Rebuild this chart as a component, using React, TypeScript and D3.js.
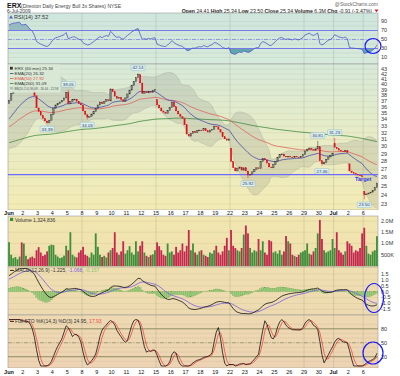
import React from "react";
import * as d3 from "d3";

// ---------- data ----------
const dayLabels = ["Jun","2","3","4","5","8","9","10","11","12","15","16","17","18","19","22","23","24","25","26","29","30","Jul","2","6"];
const monthLabelIdx = [0, 22];
const weekLineDays = [5, 10, 15, 20, 22, 24];
const barsPerDay = 7;

// hourly closes before Jun 1 (warm-up, estimated from band/EMA at left edge)
const priorCloses = [30.6, 30.2, 30.9, 31.5, 31.1, 31.8, 32.4, 32.0, 32.7, 33.3, 33.0, 33.6, 34.2, 34.0, 34.6, 35.1, 35.6, 35.3, 36.0, 36.6];

// 60-min closes, 7 per trading day
const closes = [
  37.2, 38.4, 39.2, 39.6, 40.0, 40.3, 39.8,
  40.1, 40.4, 39.9, 39.4, 39.0, 38.0, 35.9,
  35.3, 34.7, 34.2, 33.8, 33.5, 33.9, 34.8,
  35.8, 36.4, 36.6, 36.9, 37.2, 37.6, 38.6,
  36.6, 37.0, 37.3, 37.4, 37.0, 36.6, 36.4,
  35.4, 34.8, 34.4, 34.5, 34.9, 35.3, 35.8,
  36.4, 36.9, 36.6, 37.0, 37.3, 37.1, 39.2,
  38.7, 37.9, 37.5, 37.7, 37.3, 37.0, 37.6,
  38.3, 39.0, 39.8, 40.6, 41.3, 41.9, 40.3,
  38.4, 38.7, 38.5, 38.8, 38.6, 38.9, 39.1,
  36.4, 35.9, 35.4, 35.2, 35.0, 35.5, 36.0,
  36.9, 36.1, 35.4, 34.9, 34.5, 34.2, 33.2,
  31.8, 31.5, 31.9, 32.2, 32.0, 32.3, 32.4,
  32.3, 32.6, 32.3, 32.1, 32.4, 32.5, 33.0,
  32.9, 32.5, 32.1, 31.4, 31.1, 30.9, 31.1,
  28.0, 27.2, 26.8, 27.1, 27.3, 26.9, 27.2,
  26.8, 26.3, 26.4, 26.7, 27.0, 27.2, 27.1,
  28.0, 28.4, 28.2, 27.8, 27.3, 27.2, 27.6,
  28.0, 28.5, 28.9, 29.0, 28.7, 28.6, 28.7,
  28.6, 28.5, 28.7, 28.6, 28.5, 28.7, 28.9,
  29.4, 29.6, 29.8, 29.6, 29.5, 29.7, 30.0,
  28.1, 27.7, 27.9, 28.3, 28.6, 28.8, 29.1,
  29.9, 29.7, 29.5, 29.4, 29.3, 29.5, 29.2,
  26.8, 26.6, 26.5, 26.4, 26.3, 26.2, 26.1,
  24.0, 24.1, 24.2, 24.3, 24.5, 24.8, 25.34,
];
const gapOpenBars = [70, 105, 154, 161, 168];
const gapOpenPrices = [37.3, 29.8, 30.5, 27.7, 24.41];

const markBars = [18, 28, 37, 61, 113, 146, 148, 154, 168];
const markPrices = [33.39, 39.05, 34.03, 42.14, 25.92, 30.81, 27.46, 31.23, 23.5];
const markKinds = ["low", "high", "low", "high", "low", "high", "low", "high", "low"];

// volume in thousands
const volumesK = [
  1060, 500, 350, 400, 300, 420, 1050,
  1000, 450, 300, 380, 420, 350, 700,
  840, 600, 450, 500, 650, 900, 950,
  930, 500, 420, 350, 380, 460, 900,
  700, 1500, 500, 420, 380, 600, 700,
  850, 500, 450, 380, 600, 500, 1450,
  850, 500, 400, 450, 380, 600, 700,
  800, 1500, 600, 500, 650, 1100, 550,
  700, 880, 600, 500, 1100, 650, 900,
  1100, 600, 450, 400, 480, 520, 700,
  1050, 880, 700, 500, 450, 1000, 600,
  650, 500, 850, 600, 700, 1000, 650,
  900, 1600, 700, 1000, 600, 500, 650,
  700, 500, 450, 400, 600, 550, 700,
  900, 600, 500, 650, 900, 1250, 700,
  1600, 900, 800, 700, 650, 800, 1400,
  1800, 1450, 800, 600, 700, 650, 1200,
  700, 1100, 600, 500, 1150, 1100, 600,
  650, 550, 700, 500, 650, 1330, 1100,
  1000, 500, 450, 400, 500, 600, 650,
  700, 1000, 550, 500, 650, 800, 1450,
  2050, 1200, 700, 600, 650, 700, 1200,
  800, 1500, 700, 600, 500, 650, 1100,
  1000, 900, 600, 700, 650, 800, 1450,
  1700, 900, 550, 500, 650, 700, 1325,
];

const ema20Seed = 33.8;
const ema50Seed = 32.7;
const ema200Seed = 30.5;
const ema12Seed = 35.3;
const ema26Seed = 34.0;
const signalSeed = 1.0;
const targetPrice = 26.35;

const priceTicks = [43, 42, 41, 40, 39, 38, 37, 36, 35, 34, 33, 32, 31, 30, 29, 28, 27, 26, 25, 24, 23];
const rsiTicks = [90, 70, 50, 30, 10];
const volTickValues = [2000, 1500, 1000, 500];
const volTickLabels = ["2.0M", "1.5M", "1.0M", "500K"];
const macdTicks = [1.5, 1.0, 0.5, 0.0, -0.5, -1.0, -1.5];
const stoTicks = [80, 50, 20];

// ---------- helpers ----------
function emaSeeded(values: number[], period: number, seed: number) {
  const k = 2 / (period + 1);
  let prev = seed;
  return values.map((v) => (prev = prev + k * (v - prev)));
}
const FONT = "Liberation Sans, Arial, sans-serif";

export default function App() {
  const X0 = 8, X1 = 378;
  const N = closes.length;
  const P = priorCloses.length;
  const x = d3.scaleLinear().domain([0, N]).range([X0, X1]);
  const cx = (i: number) => x(i + 0.5);
  const bw = (X1 - X0) / N;

  const rsiT = 13, rsiB = 64;
  const prT = 64, prB = 210;
  const volT = 216, volB = 267;
  const mT = 267, mB = 315;
  const sT = 315, sB = 368;

  const yRsi = d3.scaleLinear().domain([0, 100]).range([62, 17]);
  const yP = d3.scaleLog().domain([23, 43]).range([204, 69]);
  const yV = d3.scaleLinear().domain([0, 2000]).range([266, 221]);
  const yM = d3.scaleLinear().domain([0, 1]).range([291.7, 279.9]);
  const yS = d3.scaleLinear().domain([0, 100]).range([366, 319.5]);

  const opens = closes.map((c, i) => {
    const g = gapOpenBars.indexOf(i);
    if (g >= 0) return gapOpenPrices[g];
    return i === 0 ? priorCloses[P - 1] : closes[i - 1];
  });
  const highs = closes.map((c, i) => Math.max(c, opens[i]));
  const lows = closes.map((c, i) => Math.min(c, opens[i]));
  markBars.forEach((b, k) => {
    if (markKinds[k] === "high") highs[b] = Math.max(highs[b], markPrices[k]);
    else lows[b] = Math.min(lows[b], markPrices[k]);
  });

  const ema20 = emaSeeded(closes, 20, ema20Seed);
  const ema50 = emaSeeded(closes, 50, ema50Seed);
  const ema200 = emaSeeded(closes, 200, ema200Seed);
  const allC = priorCloses.concat(closes);
  const bb = closes.map((_, i) => {
    const w = allC.slice(P + i - 19, P + i + 1);
    const m = d3.mean(w) as number;
    const sd = Math.sqrt(d3.mean(w.map((v) => (v - m) * (v - m))) as number);
    return { m, up: m + 2 * sd, lo: m - 2 * sd };
  });

  let ag = 0, al = 0;
  for (let j = 1; j <= 14; j++) {
    const d = allC[j] - allC[j - 1];
    ag += Math.max(d, 0); al += Math.max(-d, 0);
  }
  ag /= 14; al /= 14;
  const rsiAll: number[] = [];
  for (let j = 15; j < allC.length; j++) {
    const d = allC[j] - allC[j - 1];
    ag = (ag * 13 + Math.max(d, 0)) / 14;
    al = (al * 13 + Math.max(-d, 0)) / 14;
    rsiAll[j] = al === 0 ? 100 : 100 - 100 / (1 + ag / al);
  }
  const rsi = closes.map((_, i) => rsiAll[P + i]);

  const e12 = emaSeeded(closes, 12, ema12Seed);
  const e26 = emaSeeded(closes, 26, ema26Seed);
  const macd = closes.map((_, i) => e12[i] - e26[i]);
  const sig = emaSeeded(macd, 9, signalSeed);
  const hist = macd.map((v, i) => v - sig[i]);

  const allH = priorCloses.concat(highs);
  const allL = priorCloses.concat(lows);
  const rawK: number[] = [];
  for (let j = 13; j < allC.length; j++) {
    const hh = d3.max(allH.slice(j - 13, j + 1)) as number;
    const ll = d3.min(allL.slice(j - 13, j + 1)) as number;
    rawK[j] = hh === ll ? 50 : ((allC[j] - ll) / (hh - ll)) * 100;
  }
  const fullK: number[] = [];
  for (let j = 15; j < allC.length; j++) fullK[j] = (rawK[j] + rawK[j - 1] + rawK[j - 2]) / 3;
  const fullD: number[] = [];
  for (let j = 17; j < allC.length; j++) fullD[j] = (fullK[j] + fullK[j - 1] + fullK[j - 2]) / 3;
  const stoK = closes.map((_, i) => fullK[P + i]);
  const stoD = closes.map((_, i) => fullD[P + i]);

  const lineOf = (arr: number[], y: (v: number) => number) =>
    d3.line<number>().x((_, i) => cx(i)).y((v) => y(v))(arr) as string;

  const bbArea = d3.area<any>().x((_, i) => cx(i)).y0((d) => yP(d.lo)).y1((d) => yP(d.up))(bb) as string;
  const bbUp = lineOf(bb.map((d) => d.up), yP);
  const bbLo = lineOf(bb.map((d) => d.lo), yP);

  const rsiLow = d3.area<number>().x((_, i) => cx(i)).y0(yRsi(30)).y1((v) => yRsi(Math.min(v, 30)))(rsi) as string;
  const rsiHigh = d3.area<number>().x((_, i) => cx(i)).y0(yRsi(70)).y1((v) => yRsi(Math.max(v, 70)))(rsi) as string;

  const last = N - 1;
  const bbLegend = `BB(20,2.0) ${bb[last].up.toFixed(2)} - ${bb[last].m.toFixed(2)} - ${bb[last].lo.toFixed(2)}`;

  const gridColor = "rgba(140,140,100,0.22)";
  const vGridColor = "rgba(120,130,110,0.35)";
  const weekXs = weekLineDays.map((d) => x(d * barsPerDay));

  const panelRect = (t: number, b: number, fill: string) => (
    <rect x={X0} y={t} width={X1 - X0} height={b - t} fill={fill} stroke="#9a9a9a" strokeWidth={0.6} />
  );
  const vGrid = (t: number, b: number) =>
    weekXs.map((wx, k) => <line key={k} x1={wx} x2={wx} y1={t} y2={b} stroke={vGridColor} strokeWidth={0.6} />);
  const hGrid = (ys: number[]) =>
    ys.map((yy, k) => <line key={k} x1={X0} x2={X1} y1={yy} y2={yy} stroke={gridColor} strokeWidth={0.5} />);

  const axisText = (yy: number, label: string, k: any) => (
    <text key={k} x={381} y={yy + 1.8} fontSize={5.5} fill="#333" fontFamily={FONT}>{label}</text>
  );

  const dateAxis = (yBase: number, t: number) => (
    <g>
      <rect x={0} y={t} width={400} height={6} fill="#fff" />
      {dayLabels.map((l, d) => (
        <text key={d} x={x(d * barsPerDay) + (d === 0 ? 1 : 0)} y={yBase} fontSize={5.5} textAnchor="middle"
          fontWeight={monthLabelIdx.includes(d) ? "bold" : "normal"} fill="#111" fontFamily={FONT}>{l}</text>
      ))}
    </g>
  );

  return (
    <svg width={400} height={376} style={{ position: "absolute", left: 0, top: 0, background: "#fff" }} fontFamily={FONT}>
      <defs>
        <linearGradient id="gRsi" x1="0" y1="0" x2="0" y2="1">
          <stop offset="0" stopColor="#cfe6dd" />
          <stop offset="1" stopColor="#d7eadb" />
        </linearGradient>
        <linearGradient id="gPr" x1="0" y1="0" x2="0" y2="1">
          <stop offset="0" stopColor="#d7e9d8" />
          <stop offset="0.5" stopColor="#e8ecc6" />
          <stop offset="1" stopColor="#f3ebb4" />
        </linearGradient>
        <linearGradient id="gVol" x1="0" y1="0" x2="0" y2="1">
          <stop offset="0" stopColor="#f1e6b0" />
          <stop offset="1" stopColor="#efe0ad" />
        </linearGradient>
        <linearGradient id="gM" x1="0" y1="0" x2="0" y2="1">
          <stop offset="0" stopColor="#efdfb0" />
          <stop offset="1" stopColor="#eedab1" />
        </linearGradient>
        <linearGradient id="gS" x1="0" y1="0" x2="0" y2="1">
          <stop offset="0" stopColor="#eed9b2" />
          <stop offset="1" stopColor="#edd3b3" />
        </linearGradient>
        <clipPath id="cRsi"><rect x={X0} y={rsiT} width={X1 - X0} height={rsiB - rsiT} /></clipPath>
        <clipPath id="cPr"><rect x={X0} y={prT} width={X1 - X0} height={prB - prT} /></clipPath>
        <clipPath id="cM"><rect x={X0} y={mT} width={X1 - X0} height={mB - mT} /></clipPath>
        <clipPath id="cS"><rect x={X0} y={sT} width={X1 - X0} height={sB - sT} /></clipPath>
      </defs>

      {/* header */}
      <text x={7} y={7.5} fontSize={7} fontWeight="bold" fill="#111">ERX</text>
      <text x={21} y={7.5} fontSize={5} fill="#444">(Direxion Daily Energy Bull 3x Shares) NYSE</text>
      <text x={7} y={12.6} fontSize={5} fill="#333">6-Jul-2009</text>
      <text x={378} y={5.5} fontSize={5} fill="#666" textAnchor="end">@StockCharts.com</text>
      <text x={372} y={12.6} fontSize={5.2} fill="#222" textAnchor="end">
        <tspan fontWeight="bold">Open</tspan> 24.41 <tspan fontWeight="bold">High</tspan> 25.34{" "}
        <tspan fontWeight="bold">Low</tspan> 23.50 <tspan fontWeight="bold">Close</tspan> 25.34{" "}
        <tspan fontWeight="bold">Volume</tspan> 6.3M <tspan fontWeight="bold">Chg</tspan> -0.91 (-3.47%)
      </text>
      <path d="M374.5,9.5 L378.5,9.5 L376.5,12.3 Z" fill="#d02020" />

      {/* RSI panel */}
      {panelRect(rsiT, rsiB, "url(#gRsi)")}
      {hGrid(d3.range(10, 100, 10).map((v) => yRsi(v)))}
      {vGrid(rsiT, rsiB)}
      <g clipPath="url(#cRsi)">
        <path d={rsiLow} fill="#4f9aa0" opacity={0.85} />
        <path d={rsiHigh} fill="#6f9fb0" opacity={0.6} />
        <line x1={X0} x2={X1} y1={yRsi(70)} y2={yRsi(70)} stroke="#7a7ae6" strokeWidth={1} />
        <line x1={X0} x2={X1} y1={yRsi(30)} y2={yRsi(30)} stroke="#7a7ae6" strokeWidth={1} />
        <line x1={X0} x2={X1} y1={yRsi(50)} y2={yRsi(50)} stroke="#7a7ae6" strokeWidth={0.7} strokeDasharray="4,1.5,1,1.5" />
        <path d={lineOf(rsi, yRsi)} fill="none" stroke="#4a5ac8" strokeWidth={0.8} />
      </g>
      {rsiTicks.map((v, k) => axisText(yRsi(v), String(v), "r" + k))}
      <path d="M9,18.6 L11,15.2 L13,18.6 Z" fill="#4a6ac0" />
      <text x={14} y={18.8} fontSize={5.5} fill="#333">RSI(14) 37.52</text>

      {/* Price panel */}
      {panelRect(prT, prB, "url(#gPr)")}
      {hGrid(priceTicks.map((v) => yP(v)))}
      {vGrid(prT, prB)}
      <g clipPath="url(#cPr)">
        <path d={bbArea} fill="rgba(110,110,110,0.17)" />
        <path d={bbUp} fill="none" stroke="rgba(130,130,130,0.45)" strokeWidth={0.5} />
        <path d={bbLo} fill="none" stroke="rgba(130,130,130,0.45)" strokeWidth={0.5} />
        <path d={lineOf(ema200, yP)} fill="none" stroke="#3f8a3f" strokeWidth={0.8} />
        <path d={lineOf(ema50, yP)} fill="none" stroke="#e0625c" strokeWidth={0.8} />
        <path d={lineOf(ema20, yP)} fill="none" stroke="#4a4aa6" strokeWidth={0.8} />
        <line x1={X0} x2={X1} y1={yP(targetPrice)} y2={yP(targetPrice)} stroke="#6b6bff" strokeWidth={1.3} />
        {closes.map((c, i) => {
          const o = opens[i];
          const up = c >= o;
          const top = yP(Math.max(o, c));
          const bot = yP(Math.min(o, c));
          const col = up ? "#333" : "#e0101a";
          const w = bw * 0.66;
          return (
            <g key={i}>
              <line x1={cx(i)} x2={cx(i)} y1={yP(highs[i])} y2={yP(lows[i])} stroke={col} strokeWidth={0.5} />
              <rect x={cx(i) - w / 2} y={top} width={w} height={Math.max(bot - top, 0.8)}
                fill={up ? "none" : "#e0101a"} stroke={col} strokeWidth={up ? 0.45 : 0.2} />
            </g>
          );
        })}
      </g>
      {/* price legend */}
      <rect x={X0 + 0.5} y={prT + 0.5} width={52} height={28} fill="#d9e9d6" opacity={0.95} />
      <rect x={10} y={66.8} width={2.8} height={2.8} fill="#333" />
      <text x={14.5} y={70} fontSize={4.4} fill="#333">ERX (60 min) 25.34</text>
      <line x1={10} x2={13.5} y1={73.5} y2={73.5} stroke="#4a4aa6" strokeWidth={0.9} />
      <text x={14.5} y={75} fontSize={4.4} fill="#333">EMA(20) 26.32</text>
      <line x1={10} x2={13.5} y1={78.5} y2={78.5} stroke="#e0625c" strokeWidth={0.9} />
      <text x={14.5} y={80} fontSize={4.4} fill="#e0504a">EMA(50) 27.92</text>
      <line x1={10} x2={13.5} y1={83.5} y2={83.5} stroke="#3f8a3f" strokeWidth={0.9} />
      <text x={14.5} y={85} fontSize={4.4} fill="#333">EMA(200) 31.09</text>
      <rect x={10} y={87} width={3.2} height={2.4} fill="rgba(110,110,110,0.35)" />
      <text x={14.5} y={90} fontSize={4.4} fill="#555" textLength={44} lengthAdjust="spacingAndGlyphs">{bbLegend}</text>
      <g clipPath="url(#cPr)">
        {markBars.map((b, k) => {
          const isHigh = markKinds[k] === "high";
          const py = yP(markPrices[k]);
          const cy = isHigh ? py - 5.5 : py + 5.5;
          const bx = cx(b);
          return (
            <g key={"m" + k}>
              <rect x={bx - 7} y={cy - 2.8} width={14} height={5.6} fill="#dcf0f3" stroke="#86aeb6" strokeWidth={0.4} rx={0.6} />
              <text x={bx} y={cy + 1.6} fontSize={4.4} textAnchor="middle" fill="#2a3a5a">{markPrices[k].toFixed(2)}</text>
            </g>
          );
        })}
      </g>
      <text x={355} y={180.5} fontSize={5.5} fontWeight="bold" fill="#3838e0">Target</text>
      {priceTicks.filter((v) => yP(v) > 66).map((v, k) => axisText(yP(v), String(v), "p" + k))}

      {dateAxis(215, 210)}

      {/* Volume panel */}
      {panelRect(volT, volB, "url(#gVol)")}
      {hGrid(volTickValues.map((v) => yV(v)))}
      {vGrid(volT, volB)}
      {volumesK.map((v, i) => {
        const prev = i === 0 ? priorCloses[P - 1] : closes[i - 1];
        const down = closes[i] < prev;
        return (
          <rect key={i} x={cx(i) - bw * 0.43} y={yV(v)} width={bw * 0.86} height={yV(0) - yV(v)}
            fill={down ? "#c4284f" : "#3f8f3a"} />
        );
      })}
      {volTickValues.map((v, k) => axisText(yV(v), volTickLabels[k], "v" + k))}
      <rect x={10} y={217.8} width={3.2} height={3.2} fill="#3f8f3a" />
      <text x={15} y={221.5} fontSize={5} fill="#333">Volume 1,324,836</text>

      {/* MACD panel */}
      {panelRect(mT, mB, "url(#gM)")}
      {hGrid(macdTicks.map((v) => yM(v)))}
      {vGrid(mT, mB)}
      <g clipPath="url(#cM)">
        {hist.map((h, i) => (
          <rect key={i} x={cx(i) - bw * 0.45} y={Math.min(yM(h), yM(0))} width={bw * 0.9}
            height={Math.abs(yM(h) - yM(0))} fill="#9ccd7e" stroke="#5e9a40" strokeWidth={0.25} />
        ))}
        <path d={lineOf(sig, yM)} fill="none" stroke="#7a5ee0" strokeWidth={0.8} />
        <path d={lineOf(macd, yM)} fill="none" stroke="#111" strokeWidth={0.8} />
      </g>
      {macdTicks.map((v, k) => axisText(yM(v), v.toFixed(1), "m" + k))}
      <line x1={10} x2={14} y1={270.4} y2={270.4} stroke="#111" strokeWidth={0.9} />
      <text x={15} y={272} fontSize={5} fill="#333">
        MACD(12,26,9) -1.225, <tspan fill="#7a5ee0">-1.068</tspan>, <tspan fill="#8cc46c">-0.157</tspan>
      </text>

      {/* STO panel */}
      {panelRect(sT, sB, "url(#gS)")}
      {hGrid(d3.range(10, 100, 10).map((v) => yS(v)))}
      {vGrid(sT, sB)}
      <g clipPath="url(#cS)">
        <line x1={X0} x2={X1} y1={yS(80)} y2={yS(80)} stroke="#8a8a5c" strokeWidth={0.9} />
        <line x1={X0} x2={X1} y1={yS(20)} y2={yS(20)} stroke="#8a8a5c" strokeWidth={0.9} />
        <line x1={X0} x2={X1} y1={yS(50)} y2={yS(50)} stroke="#8a8a5c" strokeWidth={0.7} strokeDasharray="4,1.5,1,1.5" />
        <path d={lineOf(stoD, yS)} fill="none" stroke="#f04a40" strokeWidth={0.8} />
        <path d={lineOf(stoK, yS)} fill="none" stroke="#111" strokeWidth={0.8} />
      </g>
      {stoTicks.map((v, k) => axisText(yS(v), String(v), "s" + k))}
      <line x1={10} x2={14} y1={321.4} y2={321.4} stroke="#111" strokeWidth={0.9} />
      <text x={15} y={323} fontSize={5} fill="#333">
        Full STO %K(14,3) %D(3) 24.95, <tspan fill="#f04a40">17.93</tspan>
      </text>

      {dateAxis(374, 368)}

      {/* hand-drawn circles */}
      <ellipse cx={373} cy={46} rx={8} ry={7.5} fill="none" stroke="#1a1aff" strokeWidth={1.2} />
      <ellipse cx={374} cy={298} rx={9.5} ry={14.5} fill="none" stroke="#1a1aff" strokeWidth={1.2} />
      <ellipse cx={373} cy={353} rx={10} ry={11} fill="none" stroke="#1a1aff" strokeWidth={1.2} />
    </svg>
  );
}
